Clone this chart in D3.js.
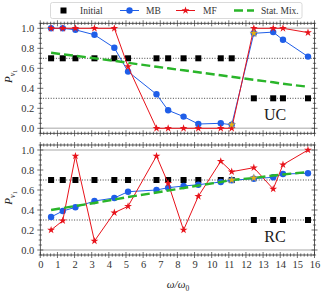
<!DOCTYPE html>
<html>
<head>
<meta charset="utf-8">
<script src="https://cdn.jsdelivr.net/npm/d3@7"></script>
<style>
  body { margin: 0; background: #fff; }
  svg text { font-family: "Liberation Serif", "DejaVu Serif", serif; }
</style>
</head>
<body>
<div id="graph"></div>
<script>
// Données
const omega = [0.63, 1.31, 2.05, 3.16, 4.32, 5.12, 6.78, 7.46, 8.36, 9.22, 10.53, 11.17, 12.46, 13.59, 14.16, 15.62];

const initialUC = [0.7, 0.7, 0.7, 0.7, 0.7, 0.7, 0.7, 0.7, 0.7, 0.7, 0.7, 0.7, 0.3, 0.3, 0.3, 0.3];
const mbUC = [1.0, 1.0, 0.985, 0.935, 0.805, 0.567, 0.34, 0.18, 0.117, 0.043, 0.05, 0.035, 0.95, 0.962, 0.885, 0.717];
const mfUC = [1.0, 1.0, 1.0, 1.0, 1.0, 0.617, 0.0, 0.0, 0.0, 0.0, 0.0, 0.0, 1.0, 1.0, 1.0, 0.957];
const statUC = [0.755, 0.74, 0.725, 0.70, 0.675, 0.655, 0.615, 0.60, 0.58, 0.56, 0.53, 0.515, 0.485, 0.46, 0.445, 0.415];
const goldUC = [[11.17, 0.035], [12.46, 0.95]];

const initialRC = [0.7, 0.7, 0.7, 0.7, 0.7, 0.7, 0.7, 0.7, 0.7, 0.7, 0.7, 0.7, 0.3, 0.3, 0.3, 0.3];
const mbRC = [0.33, 0.39, 0.427, 0.49, 0.52, 0.583, 0.60, 0.623, 0.64, 0.653, 0.68, 0.697, 0.713, 0.727, 0.76, 0.767];
const mfRC = [0.2, 0.293, 0.94, 0.09, 0.373, 0.437, 0.94, 0.667, 0.2, 0.537, 0.887, 0.783, 0.823, 0.61, 0.853, 1.0];
const statRC = [0.40, 0.42, 0.44, 0.47, 0.505, 0.53, 0.575, 0.595, 0.62, 0.645, 0.68, 0.70, 0.72, 0.745, 0.755, 0.78];
const goldRC = [[11.17, 0.70], [12.46, 0.72]];

const refLines = [0.7, 0.3];
const yTicks = [0, 0.2, 0.4, 0.6, 0.8, 1.0];
const xTicks = d3.range(0, 17);

const blue = "#1f5ee8", red = "#e8131b", green = "#2ab52a", gold = "#e8b10c";

const W = 324, H = 293;
const svg = d3.select("#graph").append("svg")
  .attr("width", W).attr("height", H);

const x = d3.scaleLinear().domain([0, 16]).range([40.3, 314.5]);

const panels = [
  { name: "UC", top: 23.3, bottom: 133.3, init: initialUC, mb: mbUC, mf: mfUC, stat: statUC, gold: goldUC, labels: false },
  { name: "RC", top: 145, bottom: 255, init: initialRC, mb: mbRC, mf: mfRC, stat: statRC, gold: goldRC, labels: true }
];

const star = d3.symbol().type(d3.symbolStar).size(19);

panels.forEach(p => {
  const y = d3.scaleLinear().domain([-0.05, 1.05]).range([p.bottom, p.top]);
  const g = svg.append("g");

  // Lignes grises à 0 et 1
  [0, 1].forEach(v => {
    g.append("line")
      .attr("x1", x(0)).attr("x2", x(16))
      .attr("y1", y(v)).attr("y2", y(v))
      .attr("stroke", "#c4c4c4").attr("stroke-width", 1.6);
  });

  // Lignes pointillées (états initiaux)
  refLines.forEach(v => {
    g.append("line")
      .attr("x1", x(0)).attr("x2", x(16))
      .attr("y1", y(v)).attr("y2", y(v))
      .attr("stroke", "#111").attr("stroke-width", 0.8)
      .attr("stroke-dasharray", "1,1.6");
  });

  // Cadre et graduations
  const axB = d3.axisBottom(x).tickValues(xTicks).tickSize(0).tickFormat(p.labels ? d3.format("d") : "");
  const gx = g.append("g").attr("transform", `translate(0,${p.bottom})`).call(axB);
  gx.select(".domain").remove();
  gx.selectAll("text").attr("dy", null).attr("y", 13).style("font-size", "10.5px").attr("fill", "#333");

  const axL = d3.axisLeft(y).tickValues(yTicks).tickSize(0).tickFormat(d3.format(".1f"));
  const gy = g.append("g").attr("transform", `translate(${x(0)},0)`).call(axL);
  gy.select(".domain").remove();
  gy.selectAll("text").attr("x", -6).style("font-size", "10.5px").attr("fill", "#333");

  g.append("rect")
    .attr("x", x(0)).attr("y", p.top)
    .attr("width", x(16) - x(0)).attr("height", p.bottom - p.top)
    .attr("fill", "none").attr("stroke", "#333").attr("stroke-width", 0.8);

  const xMinor = d3.range(0, 16.01, 0.2);
  const yMinor = d3.range(-0.05, 1.051, 0.05);
  [p.top, p.bottom].forEach(yy => {
    xMinor.forEach(v => {
      const major = Math.abs(v - Math.round(v)) < 1e-6;
      const len = major ? 3 : 1.6;
      g.append("line")
        .attr("x1", x(v)).attr("x2", x(v))
        .attr("y1", yy - len).attr("y2", yy + len)
        .attr("stroke", "#333").attr("stroke-width", 0.7);
    });
  });
  [x(0), x(16)].forEach(xx => {
    yMinor.forEach(v => {
      const major = yTicks.some(t => Math.abs(t - v) < 1e-6);
      const len = major ? 3 : 1.6;
      g.append("line")
        .attr("x1", xx - len).attr("x2", xx + len)
        .attr("y1", y(v)).attr("y2", y(v))
        .attr("stroke", "#333").attr("stroke-width", 0.7);
    });
  });

  // Carrés : état initial
  g.selectAll(".init").data(p.init).enter().append("rect")
    .attr("x", (d, i) => x(omega[i]) - 3)
    .attr("y", d => y(d) - 3)
    .attr("width", 6).attr("height", 6)
    .attr("fill", "#000");

  const line = d3.line().x((d, i) => x(omega[i])).y(d => y(d));

  // MB
  g.append("path").datum(p.mb).attr("d", line)
    .attr("fill", "none").attr("stroke", blue).attr("stroke-width", 1);
  g.selectAll(".mb").data(p.mb).enter().append("circle")
    .attr("cx", (d, i) => x(omega[i])).attr("cy", d => y(d))
    .attr("r", 3.2).attr("fill", blue);

  // MF
  g.append("path").datum(p.mf).attr("d", line)
    .attr("fill", "none").attr("stroke", red).attr("stroke-width", 1);
  g.selectAll(".mf").data(p.mf).enter().append("path")
    .attr("d", star)
    .attr("transform", (d, i) => `translate(${x(omega[i])},${y(d)})`)
    .attr("fill", red);

  // Mélange statistique
  g.append("path").datum(p.stat).attr("d", line)
    .attr("fill", "none").attr("stroke", green).attr("stroke-width", 2.4)
    .attr("stroke-dasharray", "9,4");

  // Étoiles dorées
  g.selectAll(".gold").data(p.gold).enter().append("path")
    .attr("d", star)
    .attr("transform", d => `translate(${x(d[0])},${y(d[1])})`)
    .attr("fill", gold).attr("stroke", "#888").attr("stroke-width", 0.4);

  // Étiquette du panneau
  g.append("text")
    .attr("x", 275).attr("y", y(0.08))
    .attr("text-anchor", "middle")
    .style("font-size", "16px").attr("fill", "#222")
    .text(p.name);

  // Label de l'axe y
  const ly = g.append("text")
    .attr("transform", `translate(12,${(p.top + p.bottom) / 2 - 2}) rotate(-90)`)
    .attr("text-anchor", "middle")
    .style("font-size", "11px").attr("fill", "#222");
  ly.append("tspan").style("font-style", "italic").text("P");
  ly.append("tspan").attr("dy", 3).style("font-size", "8px").style("font-style", "italic").text("ν");
  ly.append("tspan").attr("dy", 1.5).style("font-size", "6px").text("1");
});

// Label de l'axe x
const lx = svg.append("text")
  .attr("x", 178).attr("y", 288)
  .attr("text-anchor", "middle")
  .style("font-size", "11px").attr("fill", "#222");
lx.append("tspan").style("font-style", "italic").text("ω/ω");
lx.append("tspan").attr("dy", 2.5).style("font-size", "7.5px").text("0");

// Légende
const legend = svg.append("g");
legend.append("rect")
  .attr("x", 50.5).attr("y", 2.5).attr("width", 251.5).attr("height", 16)
  .attr("rx", 2).attr("fill", "#fff").attr("stroke", "#d0d0d0").attr("stroke-width", 0.8);

const ly0 = 10.5;
legend.append("rect").attr("x", 60.5).attr("y", ly0 - 3).attr("width", 6).attr("height", 6).attr("fill", "#000");
legend.append("text").attr("x", 80).attr("y", ly0 + 3.3).style("font-size", "9.5px").attr("fill", "#333").text("Initial");

legend.append("line").attr("x1", 120).attr("x2", 139).attr("y1", ly0).attr("y2", ly0).attr("stroke", blue).attr("stroke-width", 1);
legend.append("circle").attr("cx", 129.5).attr("cy", ly0).attr("r", 3.2).attr("fill", blue);
legend.append("text").attr("x", 146).attr("y", ly0 + 3.3).style("font-size", "9.5px").attr("fill", "#333").text("MB");

legend.append("line").attr("x1", 176).attr("x2", 195).attr("y1", ly0).attr("y2", ly0).attr("stroke", red).attr("stroke-width", 1);
legend.append("path").attr("d", star).attr("transform", `translate(185.5,${ly0})`).attr("fill", red);
legend.append("text").attr("x", 203).attr("y", ly0 + 3.3).style("font-size", "9.5px").attr("fill", "#333").text("MF");

legend.append("line").attr("x1", 234).attr("x2", 254).attr("y1", ly0).attr("y2", ly0)
  .attr("stroke", green).attr("stroke-width", 2.4).attr("stroke-dasharray", "9,4");
legend.append("text").attr("x", 261).attr("y", ly0 + 3.3).style("font-size", "9.5px").attr("fill", "#333").text("Stat. Mix.");
</script>
</body>
</html>
